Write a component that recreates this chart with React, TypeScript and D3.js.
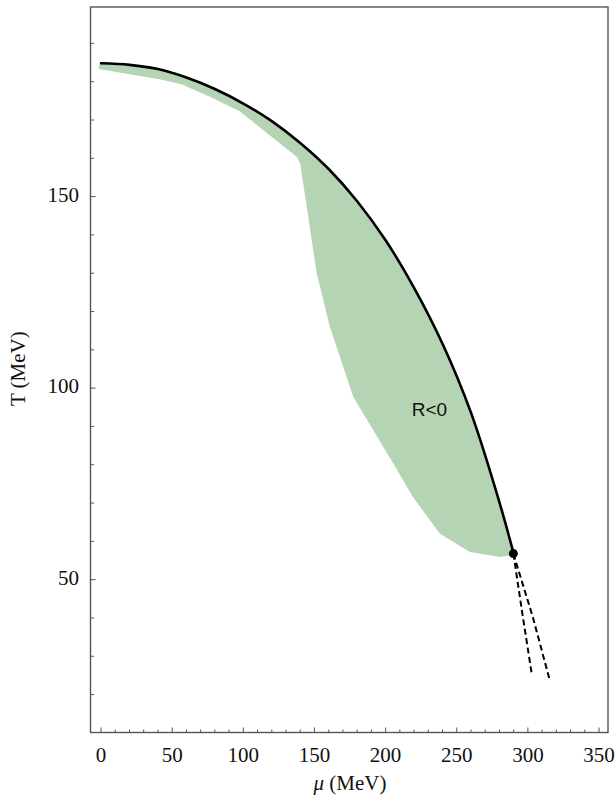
import React from "react";
import * as d3 from "d3";

// Phase boundary T(mu), sampled every 20 MeV up to the critical end point
const boundaryMu = [0, 20, 40, 60, 80, 100, 120, 140, 160, 180, 200, 220, 240, 260, 280, 290];
const boundaryT = [184.8, 184.4, 183.3, 181.1, 178.1, 174.3, 169.7, 164.0, 157.2, 148.8, 138.6, 126.2, 111.6, 93.6, 70.2, 56.8];

// Lower edge of the R<0 region, traced from the critical point back to mu = 0
const regionLowerMu = [287.4, 280.4, 259.3, 238.2, 219.3, 205.4, 177.3, 160.9, 151.6, 144.6, 139.9, 137.5, 97.7, 78, 56.9, 42.9, -1.5];
const regionLowerT = [56.3, 55.9, 57.2, 62.0, 71.5, 80.3, 97.7, 115.9, 129.9, 147.3, 158.7, 160.4, 172.2, 175.8, 179.3, 180.5, 183.3];

// Spinodal-like dashed branches below the critical point
const dashAMu = [289.8, 296.5, 302.7];
const dashAT = [56.8, 40.2, 25.4];
const dashBMu = [289.8, 303.5, 315.1];
const dashBT = [56.8, 40.2, 24.1];

const criticalMu = 289.8;
const criticalT = 56.8;

const xMajorTicks = [0, 50, 100, 150, 200, 250, 300, 350];
const yMajorTicks = [50, 100, 150];
const xMinorTicks = d3.range(0, 351, 10);
const yMinorTicks = d3.range(20, 191, 10);

const W = 615;
const H = 797;
const left = 90.5;
const right = 608;
const top = 7;
const bottom = 732.5;

export default function App() {
  const x = d3.scaleLinear().domain([-7.4, 356.3]).range([left, right]);
  const y = d3.scaleLinear().domain([10.1, 199.5]).range([bottom, top]);

  const line = d3
    .line<[number, number]>()
    .x((d) => x(d[0]))
    .y((d) => y(d[1]));
  const smooth = d3
    .line<[number, number]>()
    .x((d) => x(d[0]))
    .y((d) => y(d[1]))
    .curve(d3.curveCatmullRom.alpha(0.5));

  const boundary: [number, number][] = boundaryMu.map((m, i) => [m, boundaryT[i]]);
  const lower: [number, number][] = regionLowerMu.map((m, i) => [m, regionLowerT[i]]);
  const regionPath =
    (smooth([[-1.5, 184.0], ...boundary]) || "") +
    lower.map((p) => `L${x(p[0])},${y(p[1])}`).join("") +
    "Z";
  const dashA: [number, number][] = dashAMu.map((m, i) => [m, dashAT[i]]);
  const dashB: [number, number][] = dashBMu.map((m, i) => [m, dashBT[i]]);

  const serif = "'Liberation Serif', 'Times New Roman', serif";
  const axisColor = "#555";

  return (
    <div style={{ position: "absolute", left: 0, top: 0 }}>
      <svg width={W} height={H} style={{ display: "block", background: "#fff" }}>
        {/* R<0 region */}
        <path d={regionPath} fill="#b5d4b3" stroke="none" />

        {/* first-order transition line */}
        <path
          d={smooth(boundary) || ""}
          fill="none"
          stroke="#000"
          strokeWidth={2.6}
          strokeLinejoin="round"
          strokeLinecap="round"
        />
        <path d={line(dashA) || ""} fill="none" stroke="#000" strokeWidth={2} strokeDasharray="6,3.5" />
        <path d={line(dashB) || ""} fill="none" stroke="#000" strokeWidth={2} strokeDasharray="6,3.5" />
        <circle cx={x(criticalMu)} cy={y(criticalT)} r={4.5} fill="#000" />

        <text
          x={x(218.4)}
          y={y(92.8)}
          fontFamily="'Liberation Sans', Arial, sans-serif"
          fontSize={19}
          fill="#111"
        >
          R&lt;0
        </text>

        {/* frame */}
        <rect
          x={left}
          y={top}
          width={right - left}
          height={bottom - top}
          fill="none"
          stroke={axisColor}
          strokeWidth={1.4}
        />

        {/* x ticks */}
        {xMinorTicks.map((t) => {
          const major = t % 50 === 0;
          return (
            <line
              key={"xt" + t}
              x1={x(t)}
              x2={x(t)}
              y1={bottom}
              y2={bottom - (major ? 5 : 3)}
              stroke={axisColor}
              strokeWidth={1}
            />
          );
        })}
        {xMajorTicks.map((t) => (
          <text
            key={"xl" + t}
            x={x(t)}
            y={762}
            textAnchor="middle"
            fontFamily={serif}
            fontSize={21}
            fill="#111"
          >
            {t}
          </text>
        ))}

        {/* y ticks */}
        {yMinorTicks.map((t) => {
          const major = t % 50 === 0;
          return (
            <line
              key={"yt" + t}
              x1={left}
              x2={left + (major ? 5 : 3.5)}
              y1={y(t)}
              y2={y(t)}
              stroke={axisColor}
              strokeWidth={1}
            />
          );
        })}
        {yMajorTicks.map((t) => (
          <text
            key={"yl" + t}
            x={79}
            y={y(t) + 5}
            textAnchor="end"
            fontFamily={serif}
            fontSize={21}
            fill="#111"
          >
            {t}
          </text>
        ))}

        {/* axis titles */}
        <text
          transform={`translate(25, ${368.7}) rotate(-90)`}
          textAnchor="middle"
          fontFamily={serif}
          fontSize={21}
          fill="#111"
        >
          T (MeV)
        </text>
        <text x={350} y={790} textAnchor="middle" fontFamily={serif} fontSize={21} fill="#111">
          <tspan fontStyle="italic">μ</tspan> (MeV)
        </text>
      </svg>
    </div>
  );
}
